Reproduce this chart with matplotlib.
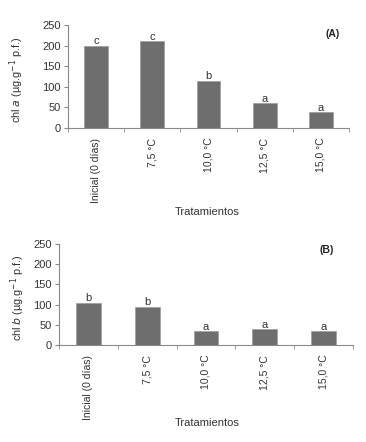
import matplotlib
matplotlib.use("Agg")
import matplotlib.pyplot as plt
import numpy as np

plt.rcParams['font.family'] = ['Liberation Sans', 'DejaVu Sans']

categories = ["Inicial (0 días)", "7,5 °C", "10,0 °C", "12,5 °C", "15,0 °C"]
chl_a = [200, 210, 115, 60, 38]
chl_a_letters = ["c", "c", "b", "a", "a"]
chl_b = [105, 95, 35, 40, 35]
chl_b_letters = ["b", "b", "a", "a", "a"]
yticks = [0, 50, 100, 150, 200, 250]

W, H = 366, 442
fig = plt.figure(figsize=(W / 100, H / 100), dpi=100)

axcol = "#8a8a8a"
barcol = "#6e6e6e"
txtcol = "#333333"

def panel(px, vals, letters, ylab, tag, tagxy, xlab_y, ylab_x):
    x0, x1, y0, y1 = px
    ax = fig.add_axes([x0 / W, 1 - y1 / H, (x1 - x0) / W, (y1 - y0) / H])
    x = np.arange(len(categories))
    ax.bar(x, vals, width=0.42, color=barcol, edgecolor="#a0a0a0", linewidth=0.6, zorder=2)
    for xi, v, l in zip(x, vals, letters):
        ax.text(xi, v - 2, l, ha="center", va="bottom", fontsize=8, color=txtcol, zorder=3)
    ax.set_xlim(-0.5, len(categories) - 0.5)
    ax.set_ylim(0, 250)
    ax.set_yticks(yticks)
    ax.set_yticklabels([str(t) for t in yticks], fontsize=8, color=txtcol)
    ax.set_xticks(x)
    ax.set_xticklabels(categories, rotation=90, fontsize=7.5, color=txtcol)
    ax.tick_params(axis="x", length=0, pad=7)
    ax.set_xticks(np.arange(len(categories) + 1) - 0.5, minor=True)
    ax.tick_params(axis="x", which="minor", length=3, color=axcol, direction="out")
    ax.tick_params(axis="y", length=3, color=axcol, direction="out", pad=2)
    for s in ["top", "right"]:
        ax.spines[s].set_visible(False)
    for s in ["left", "bottom"]:
        ax.spines[s].set_color(axcol)
        ax.spines[s].set_linewidth(0.8)
    fig.text(ylab_x / W, 1 - ((y0 + y1) / 2 + 3) / H, ylab, rotation=90, fontsize=7.8,
             color=txtcol, ha="center", va="center")
    fig.text(207 / W, 1 - xlab_y / H, "Tratamientos", fontsize=8, color=txtcol,
             ha="center", va="center")
    fig.text(tagxy[0] / W, 1 - tagxy[1] / H, tag, fontsize=7.5,
             fontweight="bold", color="#222222", ha="center", va="center")
    return ax

panel((68, 349, 25, 128), chl_a, chl_a_letters,
      r"chl $\it{a}$ (µg.g$^{-1}$ p.f.)", "(A)", (333, 34), 212, 17)
panel((59, 353, 244, 345), chl_b, chl_b_letters,
      r"chl $\it{b}$ (µg.g$^{-1}$ p.f.)", "(B)", (327, 250), 423, 18)

fig.savefig("out.png", dpi=100, facecolor="white")
